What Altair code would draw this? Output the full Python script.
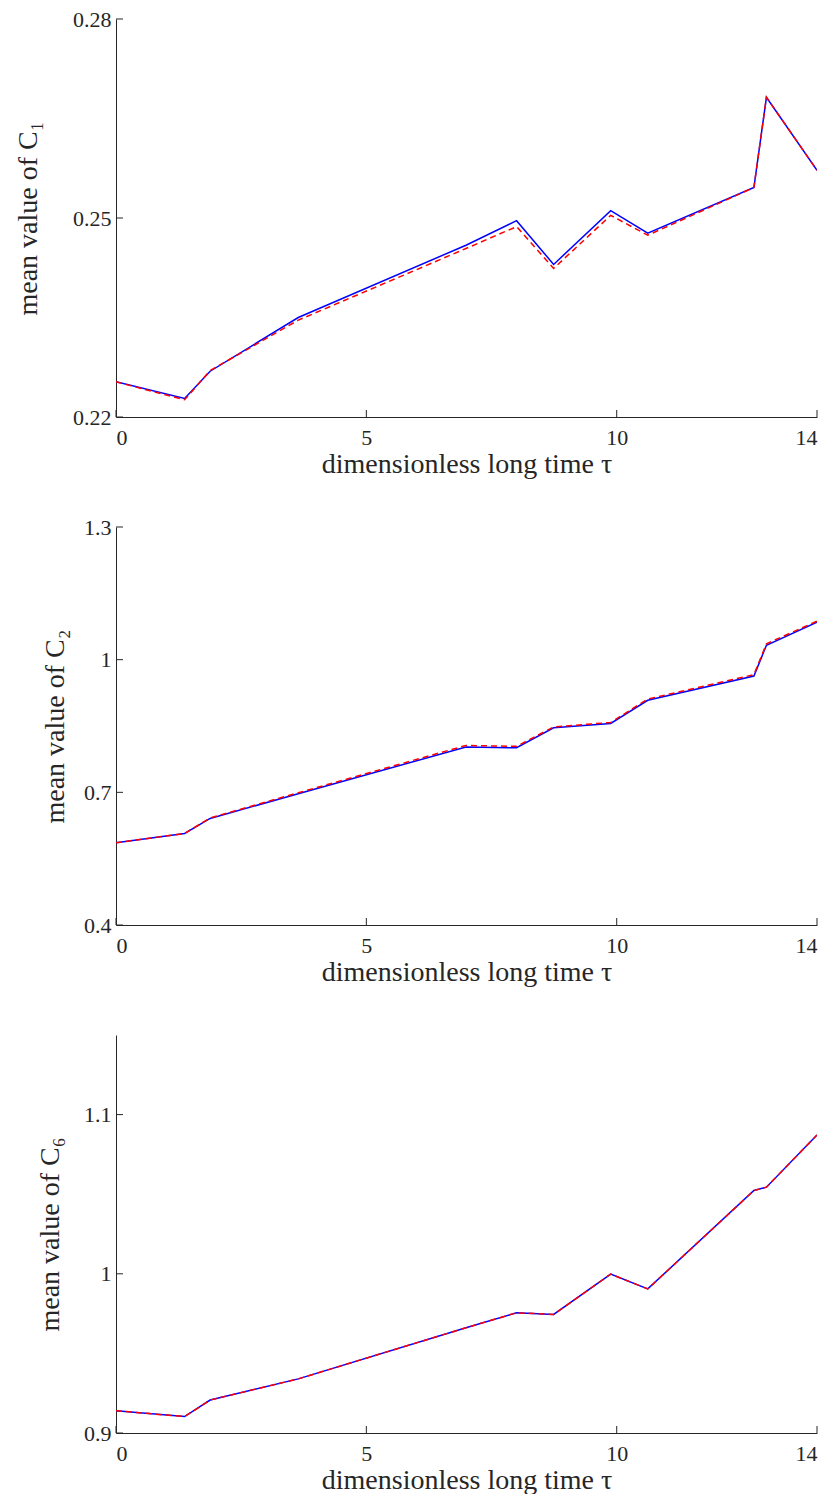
import altair as alt
import pandas as pd

# ---- data ----
tau = [0.0, 1.37, 1.88, 3.64, 6.99, 8.0, 8.74, 9.88, 10.62, 12.74, 12.99, 14.0]

c1_blue = [0.2253, 0.2228, 0.2269, 0.2350, 0.2459, 0.2496, 0.2430, 0.2511, 0.2477, 0.2546, 0.2682, 0.2572]
c1_red  = [0.2253, 0.2226, 0.2270, 0.2346, 0.2454, 0.2487, 0.2424, 0.2504, 0.2474, 0.2546, 0.2682, 0.2572]

c2_blue = [0.586, 0.607, 0.641, 0.697, 0.8024, 0.8008, 0.8459, 0.8557, 0.9082, 0.963, 1.0327, 1.0845]
c2_red  = [0.586, 0.607, 0.642, 0.699, 0.806, 0.804, 0.848, 0.858, 0.911, 0.966, 1.036, 1.087]

c6_blue = [0.914, 0.9103, 0.9207, 0.9340, 0.9661, 0.9755, 0.9745, 0.9998, 0.9905, 1.0523, 1.0544, 1.0872]
c6_red  = [0.914, 0.9103, 0.9207, 0.9340, 0.9661, 0.9755, 0.9745, 0.9998, 0.9905, 1.0523, 1.0544, 1.0872]

x_ticks = [0, 5, 10, 14]
panels = [
    ("mean value of C₁", c1_blue, c1_red, [0.22, 0.28], [0.22, 0.25, 0.28], 30),
    ("mean value of C₂", c2_blue, c2_red, [0.4, 1.3], [0.4, 0.7, 1.0, 1.3], 14),
    ("mean value of C₆", c6_blue, c6_red, [0.9, 1.15], [0.9, 1.0, 1.1], 19),
]

FONT = "Liberation Serif"
AX = "#262626"
W, H = 701, 398


def panel(ytitle, blue, red, ydom, yticks, tpad):
    df = pd.DataFrame({"tau": tau * 2,
                       "val": blue + red,
                       "series": ["blue"] * len(tau) + ["red"] * len(tau)})
    xs = alt.Scale(domain=[0, 14], nice=False, zero=False)
    ys = alt.Scale(domain=ydom, nice=False, zero=False)
    xax = alt.Axis(values=x_ticks, title="dimensionless long time τ", grid=False,
                   ticks=False, labelPadding=10, titlePadding=2, format="~g")
    yax = alt.Axis(values=yticks, title=ytitle, grid=False, ticks=False,
                   labelPadding=5, titlePadding=tpad, format="~g")
    base = alt.Chart(df)
    blue_line = base.transform_filter(alt.datum.series == "blue").mark_line(
        color="#0000ff", strokeWidth=1.5, clip=True
    ).encode(x=alt.X("tau:Q", scale=xs, axis=xax), y=alt.Y("val:Q", scale=ys, axis=yax))
    red_line = base.transform_filter(alt.datum.series == "red").mark_line(
        color="#ff0000", strokeWidth=1.5, strokeDash=[6, 4], clip=True
    ).encode(x=alt.X("tau:Q", scale=xs), y=alt.Y("val:Q", scale=ys))
    yt = alt.Chart(pd.DataFrame({"v": yticks})).mark_rule(color=AX, strokeWidth=1).encode(
        y=alt.Y("v:Q", scale=ys), x=alt.value(0), x2=alt.value(7))
    xt = alt.Chart(pd.DataFrame({"v": x_ticks})).mark_rule(color=AX, strokeWidth=1).encode(
        x=alt.X("v:Q", scale=xs), y=alt.value(H), y2=alt.value(H - 7))
    return alt.layer(blue_line, red_line, yt, xt).properties(width=W, height=H)


chart = alt.vconcat(*[panel(*p) for p in panels], spacing=110, bounds="flush").properties(
    padding={"left": 6, "top": 0, "right": 0, "bottom": 0}
).configure_view(stroke=None).configure_axis(
    labelFont=FONT, titleFont=FONT, labelFontSize=22, titleFontSize=28,
    labelColor=AX, titleColor=AX, domainColor=AX, domainWidth=1,
    titleFontWeight="normal"
)

chart.save("out.html", embed_options={"renderer": "svg", "actions": False})
